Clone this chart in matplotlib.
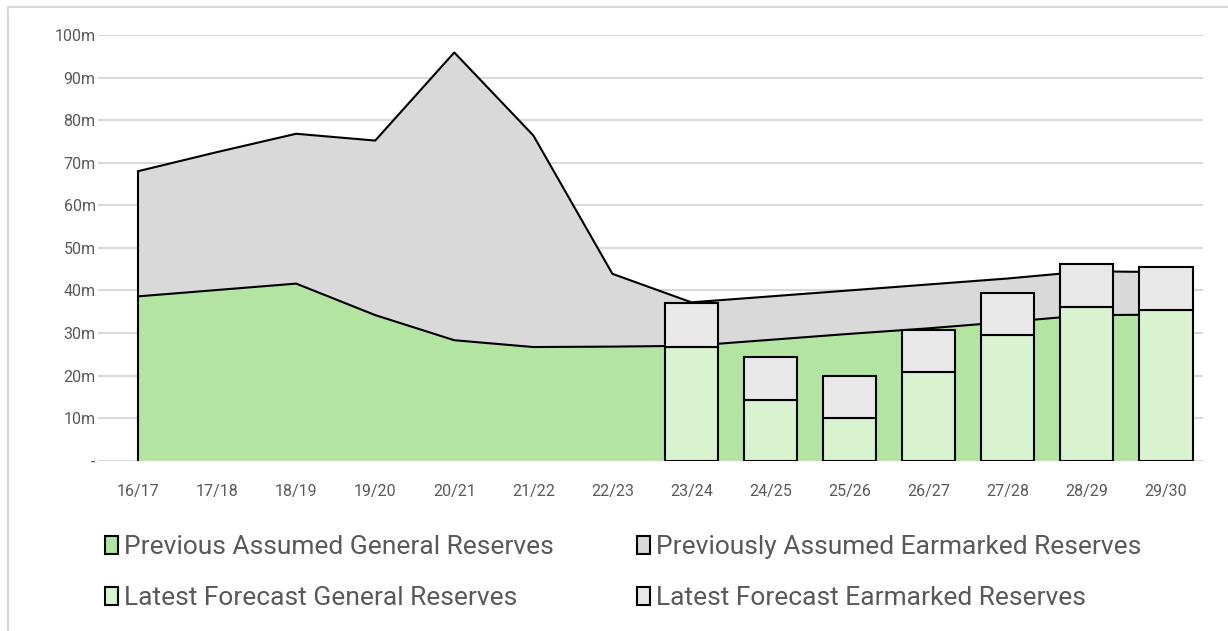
import numpy as np
import matplotlib.pyplot as plt
from matplotlib.patches import Patch
from matplotlib.lines import Line2D

# data (£m)
years = ["16/17", "17/18", "18/19", "19/20", "20/21", "21/22", "22/23",
         "23/24", "24/25", "25/26", "26/27", "27/28", "28/29", "29/30"]
prev_general = [38.6, 40.1, 41.6, 34.2, 28.3, 26.7, 26.8,
                27.0, 28.4, 29.8, 31.1, 32.6, 34.2, 34.3]
prev_total = [68.0, 72.5, 76.8, 75.2, 95.9, 76.4, 43.9,
              37.2, 38.6, 40.0, 41.4, 42.8, 44.5, 44.3]
bar_years = ["23/24", "24/25", "25/26", "26/27", "27/28", "28/29", "29/30"]
latest_general = [26.8, 14.3, 10.0, 20.9, 29.5, 36.0, 35.4]
latest_earmarked = [10.2, 10.0, 10.0, 9.9, 10.0, 10.1, 10.2]

c_prev_gen = "#b3e4a1"
c_prev_ear = "#d9d9d9"
c_new_gen = "#d9f2d0"
c_new_ear = "#e8e8e8"
txt = "#595959"

plt.rcParams['font.family'] = ['Roboto', 'DejaVu Sans']

x = np.arange(len(years))
gen = np.array(prev_general)
tot = np.array(prev_total)
xb = np.array([years.index(y) for y in bar_years])
lg = np.array(latest_general)
le = np.array(latest_earmarked)

fig = plt.figure(figsize=(12.28, 6.31), dpi=100)
ax = fig.add_axes([98.5 / 1228, 1 - 460.7 / 631, (1203 - 98.5) / 1228, (460.7 - 35) / 631])

# previous assumption as stacked areas
ax.fill_between(x, 0, gen, facecolor=c_prev_gen, edgecolor="none", zorder=2)
ax.fill_between(x, gen, tot, facecolor=c_prev_ear, edgecolor="none", zorder=2)
ax.plot(x, gen, color="black", lw=1.5, zorder=3)
ax.plot(x, tot, color="black", lw=1.5, zorder=3)
ax.vlines(x[0], 0, tot[0], color="black", lw=1.5, zorder=3)

# latest forecast as stacked bars
w = 0.675
ax.bar(xb, lg, width=w, color=c_new_gen, edgecolor="black", lw=1.5, zorder=4)
ax.bar(xb, le, width=w, bottom=lg, color=c_new_ear, edgecolor="black", lw=1.5, zorder=4)

ax.set_xlim(-0.5, 13.47)
ax.set_ylim(0, 100)
ax.set_xticks(x)
ax.set_xticklabels(years)
ax.set_yticks(np.arange(0, 101, 10))
ax.set_yticklabels(["-"] + [f"{v}m" for v in range(10, 101, 10)])
ax.tick_params(length=0, labelsize=11.5, colors=txt)
ax.tick_params(axis="x", pad=17)
ax.tick_params(axis="y", pad=2)
ax.grid(axis="y", color="#d9d9d9", lw=1.5)
ax.set_axisbelow(True)
for s in ax.spines.values():
    s.set_visible(False)

# legend, two columns
h1 = [Patch(facecolor=c_prev_gen, edgecolor="black", lw=1.5, label="Previous Assumed General Reserves"),
      Patch(facecolor=c_new_gen, edgecolor="black", lw=1.5, label="Latest Forecast General Reserves")]
h2 = [Patch(facecolor=c_prev_ear, edgecolor="black", lw=1.5, label="Previously Assumed Earmarked Reserves"),
      Patch(facecolor=c_new_ear, edgecolor="black", lw=1.5, label="Latest Forecast Earmarked Reserves")]
for hs, x0 in [(h1, 105 / 1228), (h2, 637 / 1228)]:
    fig.legend(handles=hs, loc="upper left", bbox_to_anchor=(x0, 1 - 535 / 631),
               frameon=False, fontsize=19, labelcolor=txt, handlelength=0.48,
               handleheight=0.66, handletextpad=0.25, labelspacing=1.02,
               borderpad=0, borderaxespad=0)

# outer chart border (top and left)
fig.add_artist(Line2D([8 / 1228, 8 / 1228], [0, 1 - 7 / 631], color="#d9d9d9", lw=1.5))
fig.add_artist(Line2D([8 / 1228, 1], [1 - 7 / 631, 1 - 7 / 631], color="#d9d9d9", lw=1.5))

fig.savefig("out.png", dpi=100)
